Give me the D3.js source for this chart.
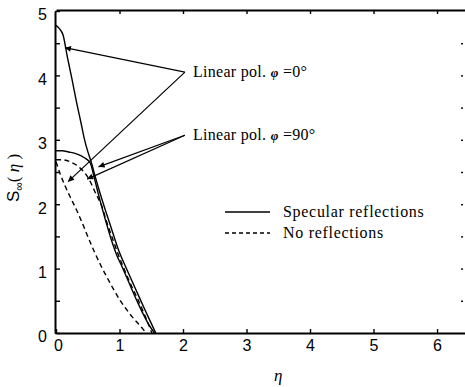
<!DOCTYPE html>
<html>
<head>
<meta charset="utf-8">
<script src="https://cdn.jsdelivr.net/npm/d3@7"></script>
<style>
  body { margin: 0; background: #fff; }
  svg { display: block; }
</style>
</head>
<body>
<div id="chart"></div>
<script>
// Values (eta on x, S_inf(eta) on y)
const etaPol0Spec = [0, 0.05, 0.11, 0.18, 0.25, 0.32, 0.39, 0.45, 0.5, 0.55, 0.62, 0.7, 0.78, 0.88, 0.98, 1.1, 1.2, 1.3, 1.4, 1.5, 1.57];
const sPol0Spec   = [4.78, 4.73, 4.63, 4.28, 3.95, 3.6, 3.28, 3.0, 2.82, 2.67, 2.42, 2.15, 1.9, 1.6, 1.3, 1.02, 0.8, 0.58, 0.36, 0.15, 0];

const etaPol90Spec = [0, 0.1, 0.2, 0.3, 0.4, 0.48, 0.54, 0.6, 0.69, 0.78, 0.88, 0.96, 1.04, 1.15, 1.27, 1.37, 1.45, 1.55];
const sPol90Spec   = [2.83, 2.83, 2.81, 2.79, 2.75, 2.7, 2.64, 2.42, 2.07, 1.75, 1.42, 1.2, 1.03, 0.78, 0.51, 0.3, 0.15, 0];

const etaPol0NoRef = [0, 0.1, 0.22, 0.3, 0.38, 0.48, 0.55, 0.6, 0.66, 0.71, 0.8, 0.9, 0.98, 1.07, 1.18, 1.3, 1.4, 1.47, 1.51];
const sPol0NoRef   = [2.69, 2.69, 2.66, 2.62, 2.56, 2.45, 2.33, 2.22, 2.1, 2.0, 1.72, 1.44, 1.22, 1.0, 0.75, 0.5, 0.27, 0.1, 0];

const etaPol90NoRef = [0, 0.07, 0.14, 0.22, 0.3, 0.4, 0.5, 0.6, 0.7, 0.8, 0.9, 1.0, 1.1, 1.2, 1.3, 1.37, 1.42];
const sPol90NoRef   = [2.66, 2.46, 2.29, 2.12, 1.96, 1.74, 1.5, 1.27, 1.06, 0.87, 0.69, 0.52, 0.38, 0.25, 0.14, 0.06, 0];

const xTicks = [0, 1, 2, 3, 4, 5, 6];
const yTicks = [0, 0.5, 1, 1.5, 2, 2.5, 3, 3.5, 4, 4.5, 5];
const rightTicks = [0.5, 1, 1.5, 2, 2.5, 3, 3.5, 4, 4.5];

// annotation arrows: [fromEta, fromS, toEta, toS]
const arrowsPol0 = [[2.03, 4.05, 0.14, 4.43], [2.03, 4.05, 0.19, 2.35]];
const arrowsPol90 = [[2.03, 3.07, 0.67, 2.58], [2.03, 3.07, 0.49, 2.39]];

const W = 465, H = 387;

const svg = d3.select("#chart")
    .append("svg")
    .attr("width", W)
    .attr("height", H);

const x = d3.scaleLinear().domain([0, 6.45]).range([56, 465.6]);
const y = d3.scaleLinear().domain([0, 5]).range([333, 11]);

const sans = "'Liberation Sans', Arial, sans-serif";
const serif = "'Liberation Serif', 'Times New Roman', serif";

// arrowhead marker
svg.append("defs").append("marker")
    .attr("id", "head")
    .attr("viewBox", "0 0 10 10")
    .attr("refX", 10).attr("refY", 5)
    .attr("markerWidth", 8).attr("markerHeight", 6)
    .attr("markerUnits", "userSpaceOnUse")
    .attr("orient", "auto")
    .append("path")
    .attr("d", "M0,0 L10,5 L0,10 Z")
    .attr("fill", "#000");

// Axes
const leftAxis = svg.append("g")
    .attr("transform", `translate(${x(0) - 1},0)`)
    .call(d3.axisLeft(y).tickValues(yTicks).tickSize(-5).tickSizeOuter(0).tickPadding(8)
        .tickFormat(d => Number.isInteger(d) ? d : ""));

const bottomAxis = svg.append("g")
    .attr("transform", `translate(0,${y(0)})`)
    .call(d3.axisBottom(x).tickValues(xTicks).tickSize(-4).tickSizeOuter(0).tickPadding(7)
        .tickFormat(d3.format("d")));

const topAxis = svg.append("g")
    .attr("transform", `translate(0,${y(5) - 1})`)
    .call(d3.axisTop(x).tickValues(xTicks.slice(1)).tickSize(-4).tickSizeOuter(0).tickFormat(""));

const rightAxis = svg.append("g")
    .attr("transform", `translate(${x(6.41)},0)`)
    .call(d3.axisRight(y).tickValues(rightTicks).tickSize(-2).tickSizeOuter(0).tickFormat(""));
rightAxis.select(".domain").remove();

[leftAxis, bottomAxis, topAxis, rightAxis].forEach(g => {
    g.select(".domain").attr("stroke", "#000").attr("stroke-width", 2);
    g.selectAll(".tick line").attr("stroke", "#000").attr("stroke-width", 1.4);
    g.selectAll("text")
        .attr("fill", "#000")
        .style("font-family", sans)
        .style("font-size", "16px");
});
leftAxis.selectAll("text").attr("dy", "0.55em");
// the shared origin label sits a little right of its tick, as in the figure
bottomAxis.selectAll(".tick text").filter(d => d === 0).attr("x", 2);

// Curves
const line = d3.line()
    .x(d => x(d[0]))
    .y(d => y(d[1]))
    .curve(d3.curveMonotoneX);

const series = [
    { eta: etaPol0Spec, s: sPol0Spec, dash: null },
    { eta: etaPol90Spec, s: sPol90Spec, dash: null },
    { eta: etaPol0NoRef, s: sPol0NoRef, dash: "5,3.5" },
    { eta: etaPol90NoRef, s: sPol90NoRef, dash: "5,3.5" }
];

svg.selectAll("path.curve")
    .data(series)
    .join("path")
    .attr("class", "curve")
    .attr("d", d => line(d.eta.map((e, i) => [e, d.s[i]])))
    .attr("fill", "none")
    .attr("stroke", "#000")
    .attr("stroke-width", 1.4)
    .attr("stroke-dasharray", d => d.dash);

// Annotation arrows
svg.selectAll("line.arrow")
    .data(arrowsPol0.concat(arrowsPol90))
    .join("line")
    .attr("class", "arrow")
    .attr("x1", d => x(d[0])).attr("y1", d => y(d[1]))
    .attr("x2", d => x(d[2])).attr("y2", d => y(d[3]))
    .attr("stroke", "#000")
    .attr("stroke-width", 1.2)
    .attr("marker-end", "url(#head)");

function polLabel(eta, s, angle) {
    const t = svg.append("text")
        .attr("x", x(eta) + 8)
        .attr("y", y(s) + 5)
        .style("font-family", serif)
        .style("font-size", "16px")
        .style("letter-spacing", "0.3px");
    t.append("tspan").text("Linear pol. ");
    t.append("tspan").style("font-style", "italic").style("font-weight", "bold")
        .style("font-size", "13px").text("φ");
    t.append("tspan").text(" =" + angle + "°");
}
polLabel(arrowsPol0[0][0], arrowsPol0[0][1], 0);
polLabel(arrowsPol90[0][0], arrowsPol90[0][1], 90);

// Legend
const legend = [
    { label: "Specular reflections", dash: null, yPos: 212 },
    { label: "No reflections", dash: "4,3", yPos: 233 }
];
legend.forEach(l => {
    svg.append("line")
        .attr("x1", 225).attr("x2", 270)
        .attr("y1", l.yPos).attr("y2", l.yPos)
        .attr("stroke", "#000").attr("stroke-width", 1.4)
        .attr("stroke-dasharray", l.dash);
    svg.append("text")
        .attr("x", 283).attr("y", l.yPos + 5)
        .style("font-family", serif)
        .style("font-size", "16px")
        .style("letter-spacing", "0.7px")
        .text(l.label);
});

// Axis titles
svg.append("text")
    .attr("x", x(3.5))
    .attr("y", 381)
    .attr("text-anchor", "middle")
    .style("font-family", serif)
    .style("font-style", "italic")
    .style("font-size", "17px")
    .text("η");

const yTitle = svg.append("text")
    .attr("transform", "translate(19,178) rotate(-90)")
    .attr("text-anchor", "middle")
    .style("font-size", "17px");
yTitle.append("tspan").style("font-family", sans).text("S");
yTitle.append("tspan").style("font-family", sans).style("font-size", "12px").attr("dy", 4).text("∞");
yTitle.append("tspan").style("font-family", serif).attr("dy", -4).text("( ");
yTitle.append("tspan").style("font-family", serif).style("font-style", "italic").text("η");
yTitle.append("tspan").style("font-family", serif).text(" )");
</script>
</body>
</html>
